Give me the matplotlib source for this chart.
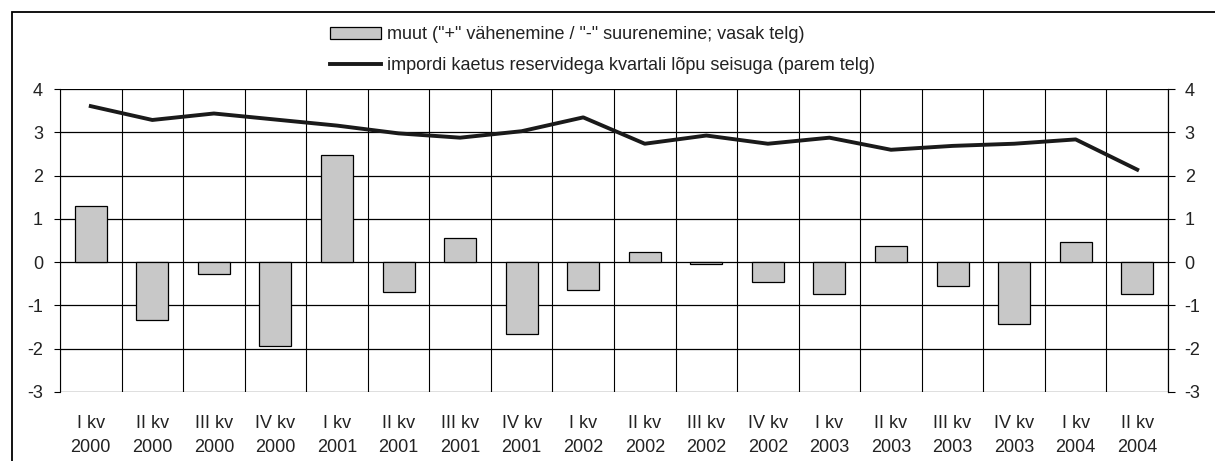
import numpy as np
import matplotlib.pyplot as plt
from matplotlib.patches import Patch, Rectangle
from matplotlib.lines import Line2D

plt.rcParams['font.family'] = ['Liberation Sans', 'DejaVu Sans']
plt.rcParams['axes.unicode_minus'] = False

quarters = ['I kv', 'II kv', 'III kv', 'IV kv'] * 4 + ['I kv', 'II kv']
years = ['2000'] * 4 + ['2001'] * 4 + ['2002'] * 4 + ['2003'] * 4 + ['2004'] * 2
labels = [q + '\n' + y for q, y in zip(quarters, years)]

muut = [1.3, -1.35, -0.28, -1.95, 2.47, -0.69, 0.56, -1.67, -0.65,
        0.23, -0.05, -0.46, -0.74, 0.37, -0.55, -1.43, 0.47, -0.74]
kaetus = [3.61, 3.29, 3.44, 3.3, 3.16, 2.98, 2.88, 3.03, 3.35,
          2.74, 2.93, 2.74, 2.88, 2.6, 2.69, 2.74, 2.84, 2.14]

bar_label = 'muut ("+" vähenemine / "-" suurenemine; vasak telg)'
line_label = 'impordi kaetus reservidega kvartali lõpu seisuga (parem telg)'

W, H = 1215, 461


def main():
    fig = plt.figure(figsize=(W / 100, H / 100), dpi=100)
    ax = fig.add_axes([60 / W, 1 - 391.7 / H, 1108 / W, (391.7 - 89.3) / H])
    x = np.arange(len(muut))

    ax.bar(x, muut, width=0.52, color='#c8c8c8', edgecolor='black', linewidth=0.9, zorder=3)
    ax.set_xlim(-0.5, len(muut) - 0.5)
    ax.set_ylim(-3, 4)
    ax.set_yticks(range(-3, 5))
    ax.set_xticks(x)
    ax.set_xticklabels(labels, fontsize=13, linespacing=1.5)
    ax.tick_params(axis='x', length=0, pad=17, labelcolor='#222222')
    ax.tick_params(axis='y', length=4.3, width=0.8, pad=8, labelsize=13, labelcolor='#222222')
    ax.set_xticks(np.arange(-0.5, len(muut)), minor=True)
    ax.tick_params(axis='x', which='minor', length=0)
    ax.grid(True, which='major', axis='y', color='black', linewidth=0.9, zorder=1)
    ax.grid(True, which='minor', axis='x', color='black', linewidth=0.8, zorder=1)
    ax.set_axisbelow(True)
    for s in ['top', 'bottom']:
        ax.spines[s].set_visible(False)
    for s in ['left', 'right']:
        ax.spines[s].set_linewidth(0.8)

    ax2 = ax.twinx()
    ax2.plot(x, kaetus, color='#1a1a1a', linewidth=2.8, zorder=4)
    ax2.set_ylim(-3, 4)
    ax2.set_yticks(range(-3, 5))
    ax2.tick_params(axis='y', length=5, width=0.8, pad=7, labelsize=13, labelcolor='#222222')
    for s in ['top', 'bottom', 'left']:
        ax2.spines[s].set_visible(False)

    handles = [Patch(facecolor='#c8c8c8', edgecolor='black', linewidth=0.9, label=bar_label),
               Line2D([], [], color='#1a1a1a', linewidth=2.8, label=line_label)]
    leg = fig.legend(handles=handles, loc='upper left', bbox_to_anchor=(321 / W, 1 - 17 / H),
                     frameon=False, fontsize=13, handlelength=2.85, handleheight=0.67,
                     handletextpad=0.28, labelspacing=0.8, borderpad=0)
    for t in leg.get_texts():
        t.set_color('#222222')

    fig.patches.append(Rectangle((12 / W, -0.1), 1.2, 1 - 11.7 / H + 0.1,
                                 transform=fig.transFigure, fill=False,
                                 edgecolor='black', linewidth=1.3))

    fig.savefig('out.png', dpi=100)


if __name__ == '__main__':
    main()
